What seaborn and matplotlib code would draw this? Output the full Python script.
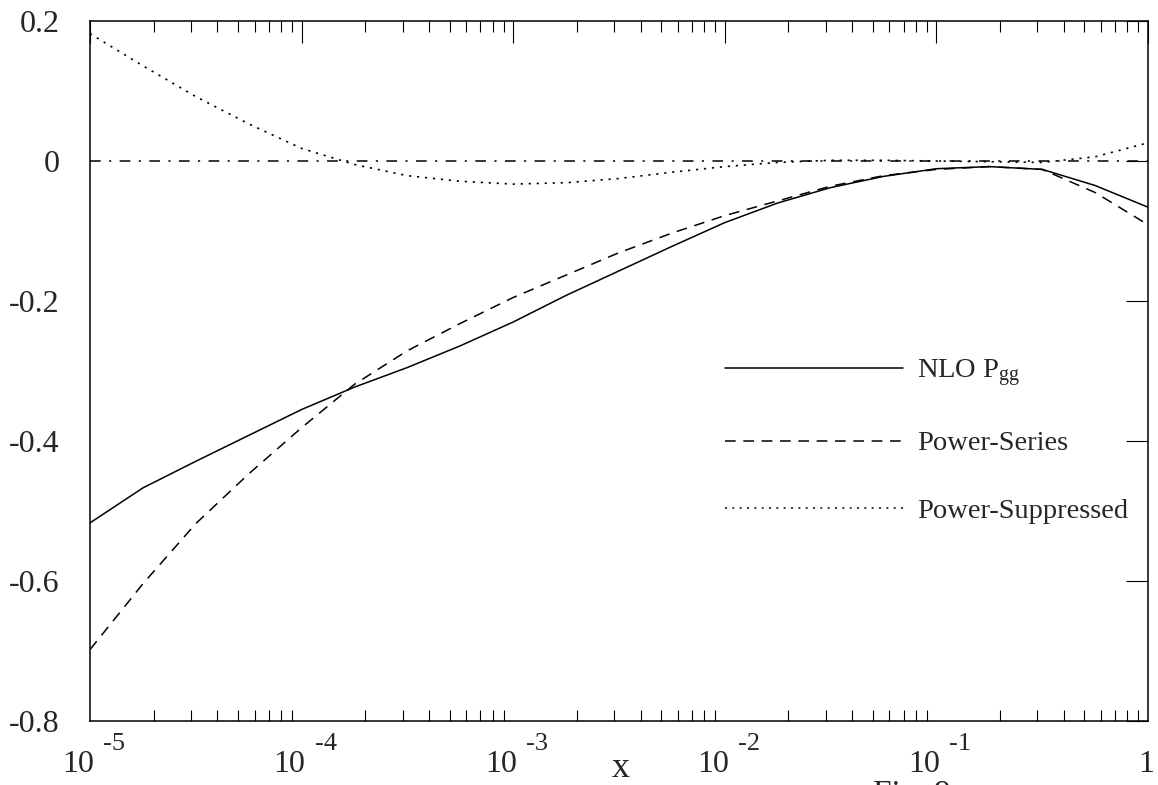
import numpy as np
import pandas as pd
import seaborn as sns
import matplotlib
matplotlib.use("Agg")
import matplotlib.pyplot as plt
from matplotlib import transforms
from matplotlib.ticker import LogLocator, NullFormatter, FixedLocator, FixedFormatter

# ---------------- data ----------------
log_x = [-5.0, -4.75, -4.5, -4.25, -4.0, -3.75, -3.5, -3.25, -3.0, -2.75, -2.5,
         -2.25, -2.0, -1.75, -1.5, -1.25, -1.0, -0.75, -0.5, -0.25, 0.0]

nlo_pgg = [-0.517, -0.467, -0.429, -0.392, -0.355, -0.323, -0.295, -0.264, -0.230,
           -0.192, -0.157, -0.122, -0.088, -0.060, -0.038, -0.022, -0.011, -0.008,
           -0.012, -0.035, -0.066]

power_series = [-0.698, -0.604, -0.518, -0.447, -0.381, -0.319, -0.271, -0.232, -0.195,
                -0.163, -0.131, -0.103, -0.078, -0.057, -0.036, -0.021, -0.012, -0.008,
                -0.012, -0.045, -0.091]

power_suppressed = [0.182, 0.136, 0.092, 0.053, 0.018, -0.005, -0.021, -0.029, -0.033,
                    -0.031, -0.025, -0.016, -0.008, -0.002, 0.001, 0.001, 0.000, -0.001,
                    -0.002, 0.006, 0.026]

zero_line_x = [1e-5, 1.0]
zero_line_y = [0.0, 0.0]

series_names = ["NLO P$_{\\mathrm{gg}}$", "Power-Series", "Power-Suppressed"]

y_ticks = [-0.8, -0.6, -0.4, -0.2, 0.0, 0.2]
y_labels = ["-0.8", "-0.6", "-0.4", "-0.2", "0", "0.2"]
x_decade_exponents = [-5, -4, -3, -2, -1]
x_label = "x"
fig_caption = "Fig. 9"

# ---------------- style ----------------
sns.set_style("white")
plt.rcParams["font.family"] = ["Liberation Serif", "DejaVu Serif"]
plt.rcParams["mathtext.fontset"] = "custom"
plt.rcParams["mathtext.rm"] = "Liberation Serif"
plt.rcParams["mathtext.it"] = "Liberation Serif:italic"
plt.rcParams["axes.unicode_minus"] = False

W, H = 1158, 785
fig = plt.figure(figsize=(W / 100, H / 100), dpi=100)
L, R, T, B = 90, 1148, 21, 721
ax = fig.add_axes([L / W, 1 - B / H, (R - L) / W, (B - T) / H])

x_vals = 10.0 ** np.array(log_x)
df = pd.DataFrame({"x": x_vals, "nlo": nlo_pgg, "ps": power_series, "sup": power_suppressed})

sns.lineplot(data=df, x="x", y="nlo", ax=ax, color="black", lw=1.1,
             label=series_names[0], sort=True)
sns.lineplot(data=df, x="x", y="ps", ax=ax, color="black", lw=1.1,
             label=series_names[1], sort=True)
ax.lines[-1].set_dashes((7, 5))
sns.lineplot(data=df, x="x", y="sup", ax=ax, color="black", lw=1.2,
             label=series_names[2], sort=True)
ax.lines[-1].set_dashes((1.3, 3.5))
sns.lineplot(x=zero_line_x, y=zero_line_y, ax=ax, color="black", lw=1.1)
ax.lines[-1].set_dashes((7, 5.5, 1.4, 5.5))

ax.set_xscale("log")
ax.set_xlim(1e-5, 1.0)
ax.set_ylim(-0.8, 0.2)
ax.set_ylabel("")

for s in ax.spines.values():
    s.set_color("black")
    s.set_linewidth(1.1)
    s.set_visible(True)

ax.yaxis.set_major_locator(FixedLocator(y_ticks))
ax.yaxis.set_major_formatter(FixedFormatter(y_labels))
ax.xaxis.set_major_locator(LogLocator(base=10, numticks=10))
ax.xaxis.set_minor_locator(LogLocator(base=10, subs=np.arange(2, 10), numticks=100))
ax.xaxis.set_major_formatter(NullFormatter())
ax.xaxis.set_minor_formatter(NullFormatter())

ax.tick_params(axis="both", which="major", direction="in", length=16, width=0.8,
               top=True, right=True, color="black")
ax.tick_params(axis="x", which="minor", direction="in", length=8, width=0.8,
               top=True, bottom=True, color="black")
ax.tick_params(axis="y", which="major", labelsize=23, pad=22)

# x tick labels "10" with raised exponent
base_tr = transforms.blended_transform_factory(ax.transData, ax.transAxes)
for e in x_decade_exponents:
    xv = 10.0 ** e
    t1 = transforms.offset_copy(base_tr, fig=fig, x=4, y=-51, units="dots")
    ax.text(xv, 0, "10", transform=t1, ha="right", va="baseline", fontsize=23)
    t2 = transforms.offset_copy(base_tr, fig=fig, x=13, y=-29, units="dots")
    ax.text(xv, 0, str(e), transform=t2, ha="left", va="baseline", fontsize=19)
t3 = transforms.offset_copy(base_tr, fig=fig, x=-2, y=-51, units="dots")
ax.text(1.0, 0, "1", transform=t3, ha="center", va="baseline", fontsize=23)

ax.set_xlabel(x_label, fontsize=26)
ax.xaxis.set_label_coords(0.502, -(777 - 721) / 700)
ax.xaxis.label.set_va("baseline")

leg = ax.legend(loc="upper left", bbox_to_anchor=((725 - L) / (R - L), (B - 357) / (B - T)),
                frameon=False, fontsize=20.5, handlelength=6.25, handletextpad=0.5,
                labelspacing=1.47, borderpad=0, borderaxespad=0)
for line in leg.get_lines():
    line.set_linewidth(1.1)

fig.text(873 / W, 1 - 779 / H, fig_caption, ha="left", va="top", fontsize=24)

fig.savefig("out.png", dpi=100, facecolor="white")
